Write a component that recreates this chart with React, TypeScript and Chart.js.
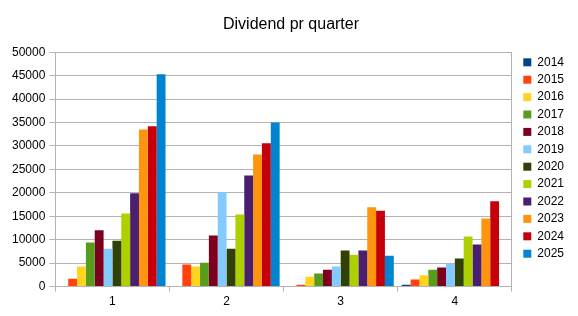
import React, { useEffect, useRef } from "react";
import { Chart, registerables } from "chart.js";

Chart.register(...registerables);

const categories = ["1", "2", "3", "4"];
const years = ["2014", "2015", "2016", "2017", "2018", "2019", "2020", "2021", "2022", "2023", "2024", "2025"];
const v2014 = [0, 0, 0, 400];
const v2015 = [1700, 4700, 400, 1500];
const v2016 = [4300, 4300, 2100, 2400];
const v2017 = [9400, 5100, 2800, 3600];
const v2018 = [12000, 10900, 3600, 4100];
const v2019 = [8100, 20100, 4300, 4900];
const v2020 = [9800, 8100, 7700, 6000];
const v2021 = [15600, 15400, 6800, 10700];
const v2022 = [19900, 23700, 7700, 9000];
const v2023 = [33500, 28200, 16900, 14500];
const v2024 = [34200, 30600, 16200, 18200];
const v2025 = [45300, 35000, 6600, 0];
const seriesValues = [v2014, v2015, v2016, v2017, v2018, v2019, v2020, v2021, v2022, v2023, v2024, v2025];
const colors = ["#004586", "#ff420e", "#ffd320", "#579d1c", "#7e0021", "#83caff", "#314004", "#aecf00", "#4b1f6f", "#ff950e", "#c5000b", "#0084d1"];

const FONT = "'Liberation Sans', Arial, sans-serif";
const GRID = "#b3b3b3";

export default function App() {
  const ref = useRef<HTMLCanvasElement>(null);
  useEffect(() => {
    if (!ref.current) return;
    const chart = new Chart(ref.current, {
      type: "bar",
      data: {
        labels: categories,
        datasets: years.map((y, i) => ({
          label: y,
          data: seriesValues[i],
          backgroundColor: colors[i],
          borderWidth: 0,
          categoryPercentage: 0.93,
          barPercentage: 1,
        })),
      },
      options: {
        animation: false,
        responsive: false,
        maintainAspectRatio: false,
        layout: { padding: { left: 8, right: 4, top: 4, bottom: 4 } },
        plugins: {
          title: {
            display: true,
            text: "Dividend pr quarter",
            color: "#000",
            font: { family: FONT, size: 16, weight: "normal" },
            padding: { top: 11, bottom: 18 },
          },
          legend: {
            position: "right",
            labels: {
              boxWidth: 8,
              boxHeight: 8,
              padding: 5.4,
              color: "#000",
              font: { family: FONT, size: 12 },
            },
          },
          tooltip: { enabled: false },
        },
        scales: {
          x: {
            offset: true,
            grid: {
              offset: true,
              drawOnChartArea: false,
              drawTicks: true,
              tickLength: 5,
              color: GRID,
            },
            border: { color: GRID },
            ticks: { color: "#000", font: { family: FONT, size: 12 }, padding: 3 },
          },
          y: {
            min: 0,
            max: 50000,
            ticks: {
              stepSize: 5000,
              color: "#000",
              font: { family: FONT, size: 12 },
              padding: 4,
              callback: (v: any) => String(v),
            },
            grid: { color: GRID, tickLength: 6 },
            border: { color: GRID },
          },
          y2: {
            position: "right",
            min: 0,
            max: 50000,
            ticks: { display: false },
            grid: { drawOnChartArea: false, drawTicks: false },
            border: { color: GRID },
            afterFit: (scale: any) => {
              scale.width = 6;
            },
          },
        },
      },
    });
    return () => chart.destroy();
  }, []);
  return (
    <div style={{ position: "fixed", left: 0, top: 0, width: 578, height: 316, background: "#fff" }}>
      <canvas ref={ref} width={578} height={316} />
    </div>
  );
}
